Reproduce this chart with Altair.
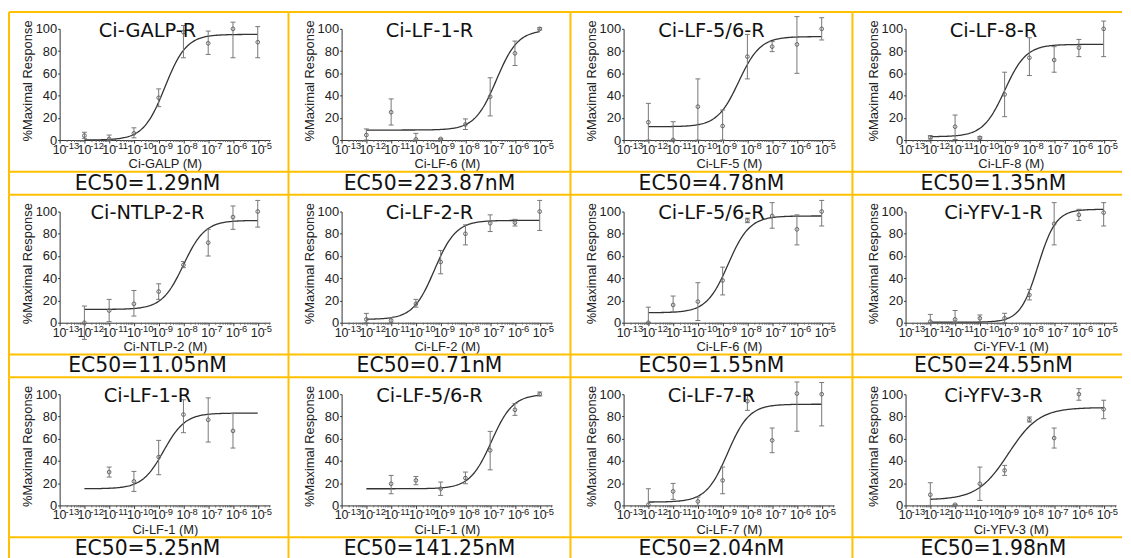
import altair as alt
import pandas as pd
import numpy as np

# ---------------- data ----------------
titles = ["Ci-GALP-R", "Ci-LF-1-R", "Ci-LF-5/6-R", "Ci-LF-8-R",
          "Ci-NTLP-2-R", "Ci-LF-2-R", "Ci-LF-5/6-R", "Ci-YFV-1-R",
          "Ci-LF-1-R", "Ci-LF-5/6-R", "Ci-LF-7-R", "Ci-YFV-3-R"]
x_titles = ["Ci-GALP (M)", "Ci-LF-6 (M)", "Ci-LF-5 (M)", "Ci-LF-8 (M)",
            "Ci-NTLP-2 (M)", "Ci-LF-2 (M)", "Ci-LF-6 (M)", "Ci-YFV-1 (M)",
            "Ci-LF-1 (M)", "Ci-LF-1 (M)", "Ci-LF-7 (M)", "Ci-YFV-3 (M)"]
ec50_text = ["EC50=1.29nM", "EC50=223.87nM", "EC50=4.78nM", "EC50=1.35nM",
             "EC50=11.05nM", "EC50=0.71nM", "EC50=1.55nM", "EC50=24.55nM",
             "EC50=5.25nM", "EC50=141.25nM", "EC50=2.04nM", "EC50=1.98nM"]

log_conc = [-12, -11, -10, -9, -8, -7, -6, -5]

resp = [
    [4, 1, 6, 38, 97, 87, 100, 88],
    [4.5, 25, 0.6, 1, 14, 39, 78, 100],
    [16, 0, 30, 12.6, 75, 84, 86, 100],
    [2.4, 12, 2, 41, 74, 72, 83, 100],
    [0, 11, 17, 28, 52, 72, 95, 100],
    [3, 2, 17, 54.6, 80, 89.5, 90, 100],
    [0, 16, 19, 38, 92, 96, 84, 100],
    [1, 3, 4, 4, 25, 89, 97, 99],
    [None, 30, 21.6, 43.5, 81.7, 77, 67, None],
    [None, 19.5, 22.5, 15, 24.6, 49.5, 86, 100],
    [0.6, 12.6, 3.6, 22.5, 93.7, 58.5, 100.6, 100],
    [9.6, 0.6, 19.5, 31.5, 77, 60.6, 100, 86.5],
]
err_low = [
    [1.5, 0, 2, 30, 74, 77, 74, 74],
    [0, 13.5, 0, 1, 9.5, 21.7, 67, 99],
    [0, 0, 0, 0, 55, 79.5, 60, 90],
    [1, 0.5, 1, 21, 58, 61, 75, 75],
    [-15, 1, 6, 21, 49.5, 60, 84, 86],
    [0, 0, 14, 44, 70, 82, 87, 83],
    [0, 10, 2, 25, 90, 85, 70, 87],
    [0, 0, 1, 0, 20.5, 70, 92, 87],
    [None, 25.5, 12.6, 27.6, 65.4, 57, 51.6, None],
    [None, 10.5, 18.6, 9, 19.5, 32, 81, 98.5],
    [0, 5.4, 0, 10.5, 85.5, 47.4, 66.7, 71.5],
    [0, 0, 4.5, 27, 75, 51.6, 94.6, 78],
]
err_high = [
    [7, 4.5, 11, 46, 103, 98, 106, 102],
    [10, 37, 6, 1, 19, 56, 89, 101],
    [33, 16.5, 55, 27, 95, 88.5, 111, 110],
    [4, 22.5, 3, 61, 92, 84, 90.5, 107],
    [15, 21, 29, 35, 55, 84, 105, 110],
    [8.4, 4.5, 21, 65, 88, 97, 93, 110],
    [14, 24, 36, 50, 94, 108, 97, 110],
    [7.5, 11, 7, 8.5, 30, 108, 102, 108],
    [None, 34.5, 30.6, 58.5, 95, 96.7, 82.6, None],
    [None, 27, 26, 21, 30, 66.6, 91.6, 102],
    [15, 19.8, 7.5, 34.5, 100, 69.6, 111, 110.5],
    [20.4, 1, 34.5, 36, 79.5, 69.6, 105, 94.6],
]

# fitted 4-parameter logistic curves (bottom, top, log mid-point, Hill slope)
curve_bottom = [0, 9, 12, 3, 12, 3, 9, 0.5, 15, 15, 3, 5]
curve_top = [95, 99, 93, 86, 92, 92, 96, 102, 83, 100, 91, 88]
curve_logmid = [-8.75, -6.75, -8.35, -9.0, -8.0, -9.25, -8.78, -7.65, -8.8, -6.95, -8.8, -8.85]
curve_hill = [1.0, 1.0, 1.0, 1.0, 1.0, 1.0, 1.0, 1.2, 1.0, 1.0, 1.0, 0.7]

x_tick_values = [-13, -12, -11, -10, -9, -8, -7, -6, -5]
x_tick_base = ["10"] * 9
x_tick_exponents = ["-13", "-12", "-11", "-10", "-9", "-8", "-7", "-6", "-5"]
y_tick_values = [0, 20, 40, 60, 80, 100]

# ---------------- layout constants ----------------
W, H = 212, 112
ORANGE = "#FFC000"
CURVE_RANGE = (-12, -5)
TICK_FONT = "Liberation Sans Narrow, Liberation Sans, Arial"

minor_ticks = [n + np.log10(k) for n in range(-13, -5) for k in range(2, 10)] + \
              [-5 + np.log10(k) for k in (2, 3)]

xs = alt.Scale(domain=[-13, -4.5], nice=False, zero=False)
ys = alt.Scale(domain=[0, 100], nice=False, zero=False)

one = alt.Data(values=[{"a": 1}])
tick_df = pd.DataFrame({"logc": x_tick_values, "base": x_tick_base, "exp": x_tick_exponents})


def cell(i):
    col, row = i % 4, i // 4
    rows = []
    for j, c in enumerate(log_conc):
        if resp[i][j] is None:
            continue
        rows.append({"logc": c, "resp": resp[i][j], "lo": err_low[i][j], "hi": err_high[i][j]})
    pts = pd.DataFrame(rows)
    xg = np.linspace(CURVE_RANGE[0], CURVE_RANGE[1], 141)
    cur = pd.DataFrame({
        "logc": xg,
        "resp": curve_bottom[i] + (curve_top[i] - curve_bottom[i]) /
        (1 + 10 ** ((curve_logmid[i] - xg) * curve_hill[i])),
    })

    xa = alt.Axis(values=x_tick_values, labels=False, title=x_titles[i],
                  tickSize=3, titleY=24, titleBaseline="middle")
    ya = alt.Axis(values=y_tick_values, title="%Maximal Response", tickSize=2,
                  labelPadding=1, titleX=-32, titleY=52, titleBaseline="middle")

    def X(f):
        return alt.X(f, type="quantitative", scale=xs, axis=xa)

    def Y(f):
        return alt.Y(f, type="quantitative", scale=ys, axis=ya)

    left = -51 if col == 0 else -53.5
    right = 218 if col == 3 else 230.5
    bottom = 167

    vline = alt.Chart(one).mark_rule(color=ORANGE, strokeWidth=2).encode(
        x=alt.value(left), y=alt.value(-17), y2=alt.value(bottom))
    htop = alt.Chart(one).mark_rule(color=ORANGE, strokeWidth=2).encode(
        x=alt.value(left), x2=alt.value(right), y=alt.value(-17))
    hmid = alt.Chart(one).mark_rule(color=ORANGE, strokeWidth=2).encode(
        x=alt.value(left), x2=alt.value(right), y=alt.value(144))

    minor = alt.Chart(pd.DataFrame({"logc": minor_ticks})).mark_rule(
        color="#666", strokeWidth=1).encode(x=X("logc"), y=alt.value(H), y2=alt.value(H + 2))
    tick_base = alt.Chart(tick_df).mark_text(
        font=TICK_FONT, fontSize=12.5, color="#222", align="center", baseline="middle").encode(
        x=X("logc"), y=alt.value(H + 10), text="base:N")
    tick_exp = alt.Chart(tick_df).mark_text(
        font=TICK_FONT, fontSize=9.5, color="#222", align="left", baseline="middle", dx=6).encode(
        x=X("logc"), y=alt.value(H + 6.5), text="exp:N")
    line = alt.Chart(cur).mark_line(color="#333", strokeWidth=1.3).encode(
        x=X("logc"), y=Y("resp"))
    bars = alt.Chart(pts).mark_rule(color="#777", strokeWidth=1).encode(
        x=X("logc"), y=Y("lo"), y2="hi")
    cap_lo = alt.Chart(pts).mark_tick(color="#777", orient="horizontal", size=5,
                                      thickness=1, opacity=1).encode(x=X("logc"), y=Y("lo"))
    cap_hi = alt.Chart(pts).mark_tick(color="#777", orient="horizontal", size=5,
                                      thickness=1, opacity=1).encode(x=X("logc"), y=Y("hi"))
    points = alt.Chart(pts).mark_point(shape="circle", filled=False, size=14,
                                       color="#666", strokeWidth=1, opacity=1).encode(
        x=X("logc"), y=Y("resp"))
    ttl = alt.Chart(one).mark_text(font="DejaVu Sans", fontSize=19.5, color="#111",
                                   align="center", baseline="middle").encode(
        x=alt.value(88.5), y=alt.value(2), text=alt.value(titles[i]))
    ec = alt.Chart(one).mark_text(font="DejaVu Sans", fontSize=20.5, color="#111",
                                  align="center", baseline="middle").encode(
        x=alt.value(88.5), y=alt.value(156), text=alt.value(ec50_text[i]))

    return alt.layer(vline, htop, hmid, minor, tick_base, tick_exp, line, bars,
                     cap_lo, cap_hi, points, ttl, ec).properties(width=W, height=H)


chart = alt.concat(*[cell(i) for i in range(12)], columns=4, spacing=72, bounds="flush"
                   ).properties(
    padding={"left": 0, "top": 1, "right": 0, "bottom": 0},
    background="white",
).configure_view(stroke=None).configure_axis(
    labelFont="Liberation Sans", labelFontSize=13, labelColor="#222",
    titleFont="Liberation Sans", titleFontSize=13, titleFontWeight="normal", titleColor="#222",
    domainColor="#333", tickColor="#333", domainWidth=1, tickWidth=1, grid=False,
)

chart.save("out.html", embed_options={"renderer": "svg", "actions": False})
